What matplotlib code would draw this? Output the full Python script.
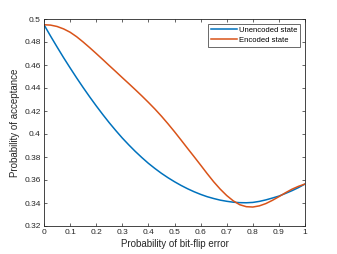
import matplotlib
matplotlib.use("Agg")
import matplotlib.pyplot as plt

p = [0, 0.025, 0.05, 0.075, 0.1, 0.125, 0.15, 0.175, 0.2, 0.225, 0.25, 0.275,
     0.3, 0.325, 0.35, 0.375, 0.4, 0.425, 0.45, 0.475, 0.5, 0.525, 0.55, 0.575,
     0.6, 0.625, 0.65, 0.675, 0.7, 0.725, 0.75, 0.775, 0.8, 0.825, 0.85, 0.875,
     0.9, 0.925, 0.95, 0.975, 1.0]
unencoded = [0.495, 0.4852, 0.4757, 0.4664, 0.4575, 0.4488, 0.4404, 0.4323,
             0.4245, 0.4170, 0.4098, 0.4030, 0.3965, 0.3905, 0.3848, 0.3795,
             0.3745, 0.3700, 0.3658, 0.3620, 0.3585, 0.3553, 0.3524, 0.3498,
             0.3475, 0.3455, 0.3439, 0.3425, 0.3415, 0.3407, 0.3403, 0.3402,
             0.3405, 0.3414, 0.3427, 0.3443, 0.3460, 0.3483, 0.3507, 0.3534,
             0.3565]
encoded = [0.495, 0.4947, 0.4935, 0.4914, 0.4885, 0.4846, 0.4800, 0.4751,
           0.4700, 0.4648, 0.4595, 0.4543, 0.4490, 0.4438, 0.4385, 0.4331,
           0.4275, 0.4217, 0.4155, 0.4089, 0.4020, 0.3948, 0.3875, 0.3803,
           0.3730, 0.3656, 0.3585, 0.3521, 0.3465, 0.3419, 0.3385, 0.3368,
           0.3365, 0.3375, 0.3395, 0.3423, 0.3455, 0.3489, 0.3520, 0.3545,
           0.3565]
xticks = [0, 0.1, 0.2, 0.3, 0.4, 0.5, 0.6, 0.7, 0.8, 0.9, 1]
xticklabels = ["0", "0.1", "0.2", "0.3", "0.4", "0.5", "0.6", "0.7", "0.8", "0.9", "1"]
yticks = [0.32, 0.34, 0.36, 0.38, 0.40, 0.42, 0.44, 0.46, 0.48, 0.50]
yticklabels = ["0.32", "0.34", "0.36", "0.38", "0.4", "0.42", "0.44", "0.46", "0.48", "0.5"]

plt.rcParams['font.family'] = ['Liberation Sans', 'DejaVu Sans']

fig = plt.figure(figsize=(3.37, 2.54), dpi=100)
ax = fig.add_axes([44/337, 1-226/254, (305-44)/337, (226-19)/254])

ax.plot(p, unencoded, color='#0072BD', lw=1.1, label='Unencoded state')
ax.plot(p, encoded, color='#D95319', lw=1.1, label='Encoded state')

ax.set_xlim(0, 1)
ax.set_ylim(0.32, 0.5)
ax.set_xticks(xticks)
ax.set_xticklabels(xticklabels)
ax.set_yticks(yticks)
ax.set_yticklabels(yticklabels)
ax.tick_params(direction='in', top=True, right=True, labelsize=6,
               length=2.5, width=0.5, colors='#262626', pad=2.5)
for s in ax.spines.values():
    s.set_color('#262626')
    s.set_linewidth(0.6)

ax.set_xlabel('Probability of bit-flip error', fontsize=7, color='#262626', labelpad=2)
ax.set_ylabel('Probability of acceptance', fontsize=7, color='#262626', labelpad=3)

leg = ax.legend(loc='upper right', fontsize=5.5, frameon=True, fancybox=False,
                edgecolor='#262626', handlelength=3.3, borderpad=0.4,
                labelspacing=0.3, handletextpad=0.3, borderaxespad=0.6)
leg.get_frame().set_linewidth(0.6)

fig.savefig('out.png', dpi=100)
